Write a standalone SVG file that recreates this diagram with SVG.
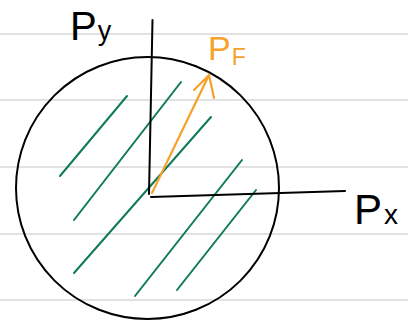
<svg xmlns="http://www.w3.org/2000/svg" width="408" height="322" viewBox="0 0 408 322">
<style>
.rule{stroke:#d9d9d9;stroke-width:1.5}
.ink{fill:none;stroke:#000;stroke-width:2;stroke-linecap:round}
.hatch{stroke:#0e7a5a;stroke-width:2;stroke-linecap:round}
.force{fill:none;stroke:#f5a12a;stroke-width:2.2;stroke-linecap:round;stroke-linejoin:round}
.lbl{font-family:"Liberation Sans",Arial,sans-serif}
</style>
<rect width="408" height="322" fill="#fff"/>
<g id="ruled-lines">
<line class="rule" x1="0" y1="34" x2="408" y2="34"/>
<line class="rule" x1="0" y1="100" x2="408" y2="100"/>
<line class="rule" x1="0" y1="167" x2="408" y2="167"/>
<line class="rule" x1="0" y1="234" x2="408" y2="234"/>
<line class="rule" x1="0" y1="300" x2="408" y2="300"/>
</g>
<g id="hatching">
<line class="hatch" x1="127" y1="96" x2="60" y2="176"/>
<line class="hatch" x1="181" y1="82" x2="74" y2="220"/>
<line class="hatch" x1="211" y1="117" x2="74" y2="273"/>
<line class="hatch" x1="242" y1="160" x2="135" y2="296"/>
<line class="hatch" x1="256" y1="190" x2="177" y2="290"/>
</g>
<g id="circle">
<ellipse class="ink" cx="147.5" cy="188" rx="131.5" ry="131"/>
</g>
<g id="connectors">
<line class="ink" x1="152.5" y1="20" x2="149" y2="194"/>
<line class="ink" x1="151" y1="197" x2="345" y2="191"/>
<path class="force" d="M152,193 L209,75 M194,90 L209,75 L214,98"/>
</g>
<g id="label-py">
<text class="lbl" x="70" y="40" font-size="40" fill="#000">P<tspan font-size="27" dx="1">y</tspan></text>
</g>
<g id="label-pf">
<text class="lbl" x="208" y="60" font-size="34" fill="#f5a12a">P<tspan font-size="23" dy="5" dx="1">F</tspan></text>
</g>
<g id="label-px">
<text class="lbl" x="354" y="224" font-size="42" fill="#000">P<tspan font-size="28" dx="2">x</tspan></text>
</g>
</svg>
